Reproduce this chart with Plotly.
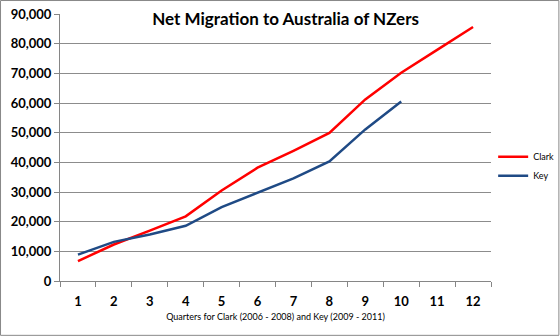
import plotly.graph_objects as go

quarters = [str(i) for i in range(1, 13)]
clark = [6700, 12300, 17000, 21800, 30500, 38200, 43900, 49900, 61200, 70200, 77900, 85600]
key = [8900, 13200, 15700, 18600, 24900, 29700, 34600, 40300, 51100, 60500]
y_ticks = list(range(0, 90001, 10000))

fig = go.Figure()
fig.add_trace(go.Scatter(x=quarters, y=clark, name="Clark", mode="lines",
                         line=dict(color="#FF0000", width=2.5)))
fig.add_trace(go.Scatter(x=quarters[:len(key)], y=key, name="Key", mode="lines",
                         line=dict(color="#1F4A85", width=2.5)))

fig.update_layout(
    width=560, height=336,
    margin=dict(l=60, r=69, t=14, b=55, autoexpand=False),
    paper_bgcolor="white", plot_bgcolor="white",
    font=dict(family="Lato, Open Sans, sans-serif", color="black"),
    title=dict(text="<b>Net Migration to Australia of NZers</b>", x=0.51, xanchor="center",
               y=0.943, yanchor="middle", font=dict(size=17, color="black")),
    showlegend=True,
    legend=dict(x=1.005, y=0.43, xanchor="left", yanchor="middle",
                font=dict(size=9), itemwidth=30, tracegroupgap=4, bgcolor="rgba(0,0,0,0)"),
    xaxis=dict(type="category", range=[-0.5, 11.5], tickson="boundaries", ticks="outside",
               ticklen=5, tickcolor="#868686", showline=True, linecolor="#868686",
               showgrid=False, ticklabelstandoff=8,
               title=dict(text="Quarters for Clark (2006 - 2008) and Key (2009 - 2011)",
                          font=dict(size=9), standoff=6)),
    yaxis=dict(range=[0, 90000], tickvals=y_ticks, tickformat=",d", ticks="outside",
               ticklen=5, tickcolor="#868686", showline=True, linecolor="#868686",
               gridcolor="#8c8c8c", gridwidth=1, zeroline=False),
    shapes=[dict(type="rect", xref="paper", yref="paper", x0=-0.1380, x1=1.1575,
                 y0=-0.2035, y1=1.0505, line=dict(color="#888888", width=1))],
)
fig.update_yaxes(tickfont=dict(size=13, family="Lato", weight="bold", color="black"))
fig.update_xaxes(tickfont=dict(size=13, family="Lato", weight="bold", color="black"))

fig.write_html("out.html")
